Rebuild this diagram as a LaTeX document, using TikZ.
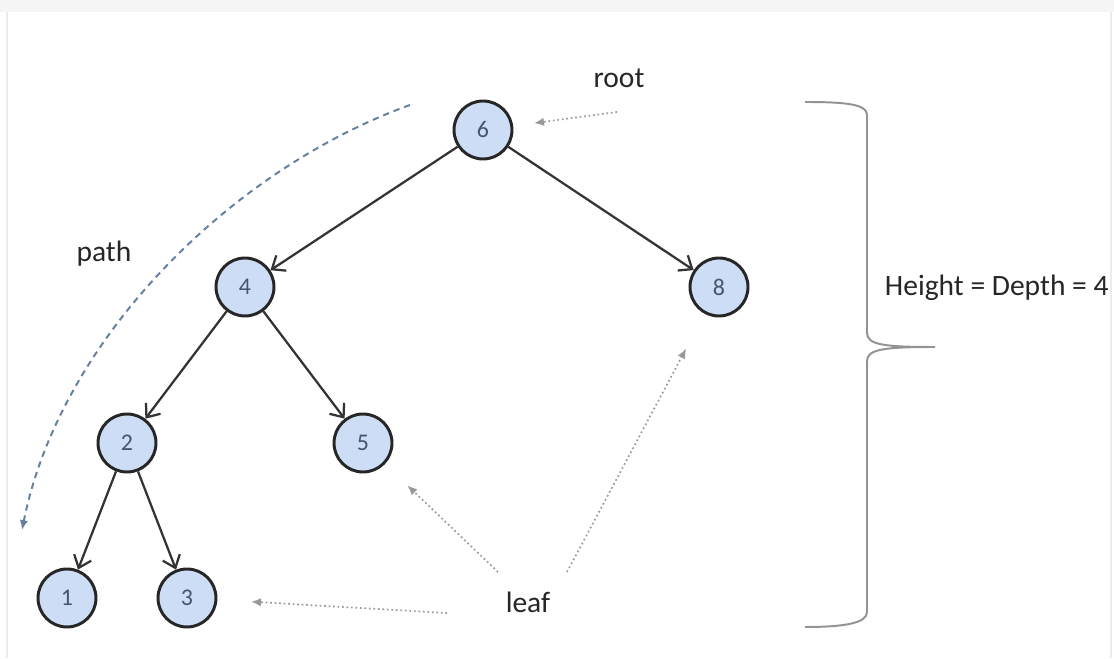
\documentclass[tikz,border=0pt]{standalone}
\usepackage{fontspec}
\setmainfont{Carlito}
\usetikzlibrary{arrows.meta}
\definecolor{nodefill}{RGB}{205,221,246}
\definecolor{digit}{RGB}{70,84,108}
\definecolor{trailblue}{RGB}{100,128,158}
\begin{document}
\begin{tikzpicture}[x=2.5cm,y=2.5cm,
  vertex/.style={circle,draw=black!85,line width=2.1pt,fill=nodefill,
    minimum size=1.45cm,inner sep=0pt,text=digit,font=\fontsize{17}{20}\selectfont},
  edge/.style={draw=black!80,line width=1.6pt,-{Straight Barb[length=8pt,width=13pt]}},
  hint/.style={draw=gray!80,dotted,line width=1.2pt,-{Latex[length=7pt,width=6pt]}},
  trail/.style={draw=trailblue,dash pattern=on 4.5pt off 3.5pt,line width=1.4pt,-{Latex[length=7pt,width=6pt]}},
  lbl/.style={font=\fontsize{21}{25}\selectfont,text=black!85}]
  \useasboundingbox (0,0) rectangle (11.14,6.58);
  % frame of the screenshot
  \fill[gray!8] (0,6.46) rectangle (11.14,6.58);
  \draw[gray!15,line width=2pt] (0.07,0) -- (0.07,6.46);
  \draw[gray!15,line width=2pt] (11.11,0) -- (11.11,6.46);

  % the tree
  \node[vertex] (n6) at (4.83,5.28) {6};
  \node[vertex] (n4) at (2.45,3.71) {4};
  \node[vertex] (n8) at (7.19,3.71) {8};
  \node[vertex] (n2) at (1.27,2.15) {2};
  \node[vertex] (n5) at (3.63,2.15) {5};
  \node[vertex] (n1) at (0.67,0.60) {1};
  \node[vertex] (n3) at (1.87,0.60) {3};
  \draw[edge] (n6) -- (n4);
  \draw[edge] (n6) -- (n8);
  \draw[edge] (n4) -- (n2);
  \draw[edge] (n4) -- (n5);
  \draw[edge] (n2) -- (n1);
  \draw[edge] (n2) -- (n3);

  % labels
  \node[lbl] (root) at (6.19,5.80) {root};
  \node[lbl] (path) at (1.04,4.04) {path};
  \node[lbl] (leaf) at (5.28,0.56) {leaf};
  \node[lbl,anchor=west] (hd) at (8.80,3.70) {Height = Depth = 4};

  \coordinate (rs) at (6.17,5.46);
  \draw[hint,shorten >=15pt] (rs) -- (n6);
  \coordinate (la) at (4.98,0.86);
  \coordinate (lb) at (5.67,0.86);
  \coordinate (lc) at (4.47,0.45);
  \draw[hint,shorten >=22pt] (la) -- (n5);
  \draw[hint,shorten >=28pt] (lb) -- (n8);
  \draw[hint,shorten >=24pt] (lc) -- (n3);

  % path down to a leaf
  \coordinate (p0) at (4.10,5.53);
  \coordinate (p1) at (0.22,1.28);
  \draw[trail] (p0) .. controls (2.30,4.88) and (0.60,3.18) .. (p1);

  % brace for the height
  \draw[gray!85,line width=1.4pt] (8.05,5.56) .. controls (8.45,5.56) and (8.67,5.54) .. (8.67,5.43)
    -- (8.67,3.25) .. controls (8.67,3.13) and (8.85,3.11) .. (9.35,3.11)
    .. controls (8.85,3.11) and (8.67,3.09) .. (8.67,2.97)
    -- (8.67,0.46) .. controls (8.67,0.35) and (8.45,0.31) .. (8.05,0.31);
\end{tikzpicture}
\end{document}
